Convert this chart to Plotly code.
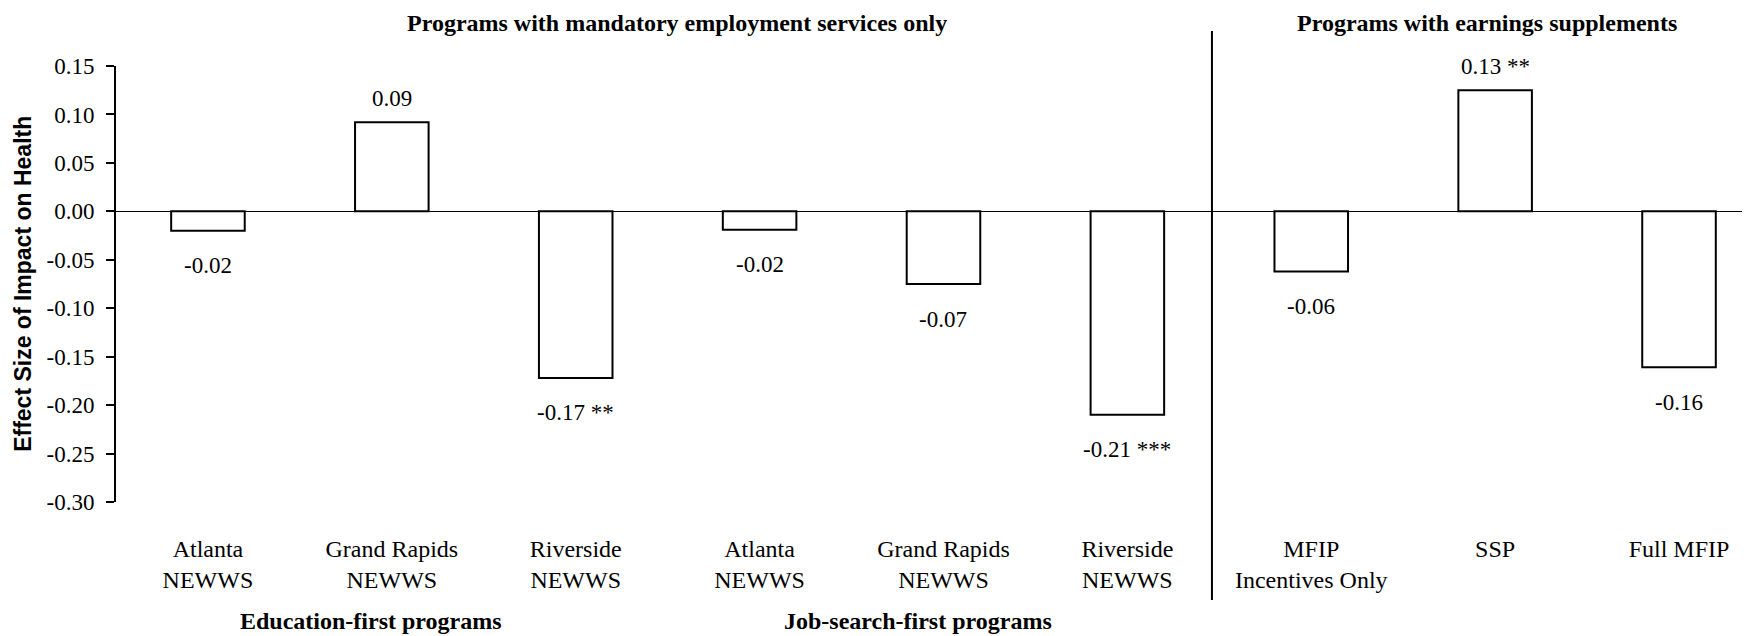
import plotly.graph_objects as go

# programs, in plotting order
programs = ["atl_edu", "gr_edu", "riv_edu", "atl_js", "gr_js", "riv_js",
            "mfip_inc", "ssp", "mfip_full"]
program_labels = ["Atlanta<br>NEWWS", "Grand Rapids<br>NEWWS", "Riverside<br>NEWWS",
                  "Atlanta<br>NEWWS", "Grand Rapids<br>NEWWS", "Riverside<br>NEWWS",
                  "MFIP<br>Incentives Only", "SSP", "Full MFIP"]
effect_sizes = [-0.02, 0.092, -0.172, -0.019, -0.075, -0.21, -0.062, 0.125, -0.161]
value_labels = ["-0.02", "0.09", "-0.17 **", "-0.02", "-0.07", "-0.21 ***",
                "-0.06", "0.13 **", "-0.16"]

y_ticks = [0.15, 0.10, 0.05, 0.00, -0.05, -0.10, -0.15, -0.20, -0.25, -0.30]
y_tick_labels = ["0.15", "0.10", "0.05", "0.00", "-0.05", "-0.10", "-0.15",
                 "-0.20", "-0.25", "-0.30"]

serif = "Liberation Serif"

fig = go.Figure()
fig.add_trace(go.Bar(
    x=programs,
    y=effect_sizes,
    width=0.4,
    marker=dict(color="white", line=dict(color="black", width=2)),
    hoverinfo="skip",
))

# value labels under / over each bar
for prog, val, txt in zip(programs, effect_sizes, value_labels):
    fig.add_annotation(
        x=prog, y=val, text=txt, showarrow=False,
        xanchor="center", yanchor="middle",
        yshift=24 if val > 0 else -35,
        font=dict(family=serif, size=23, color="black"),
    )

# group headings
headings = [
    ("<b>Programs with mandatory employment services only</b>", 2.549, 1.0986, "middle"),
    ("<b>Programs with earnings supplements</b>", 6.955, 1.0986, "middle"),
    ("<b>Education-first programs</b>", 0.886, -0.307, "bottom"),
    ("<b>Job-search-first programs</b>", 3.864, -0.307, "bottom"),
]
for txt, xpos, ypos, anchor in headings:
    fig.add_annotation(
        x=xpos, y=ypos, xref="x", yref="paper", text=txt, showarrow=False,
        xanchor="center", yanchor=anchor,
        font=dict(family=serif, size=24, color="black"),
    )

fig.add_annotation(
    x=-0.057, y=0.5, xref="paper", yref="paper",
    text="<b>Effect Size of Impact on Health</b>", textangle=-90, showarrow=False,
    xanchor="center", yanchor="middle",
    font=dict(family="Liberation Sans", size=23, color="black"),
)

# divider between the two program types
fig.add_shape(type="line", xref="x", yref="paper", x0=5.46, x1=5.46,
              y0=-0.225, y1=1.08, line=dict(color="black", width=2))

# page has an 8px body margin, so the figure is 8px smaller than the window
fig.update_layout(
    width=1742, height=628,
    margin=dict(l=108, r=0, t=58, b=134),
    plot_bgcolor="white", paper_bgcolor="white",
    showlegend=False,
    font=dict(family=serif, size=23, color="black"),
)
fig.update_xaxes(
    type="category", range=[-0.5, 8.386],
    tickvals=programs, ticktext=program_labels,
    showline=False, showgrid=False, zeroline=False, ticks="",
    ticklabelstandoff=30,
    tickfont=dict(family=serif, size=24, color="black"),
)
fig.update_yaxes(
    range=[-0.30, 0.15],
    tickvals=y_ticks, ticktext=y_tick_labels,
    showline=True, linecolor="black", linewidth=2,
    ticks="outside", ticklen=8, tickwidth=2, tickcolor="black",
    ticklabelstandoff=7,
    showgrid=False,
    zeroline=True, zerolinecolor="black", zerolinewidth=1,
    tickfont=dict(family=serif, size=23, color="black"),
)

fig.write_html("out.html")
